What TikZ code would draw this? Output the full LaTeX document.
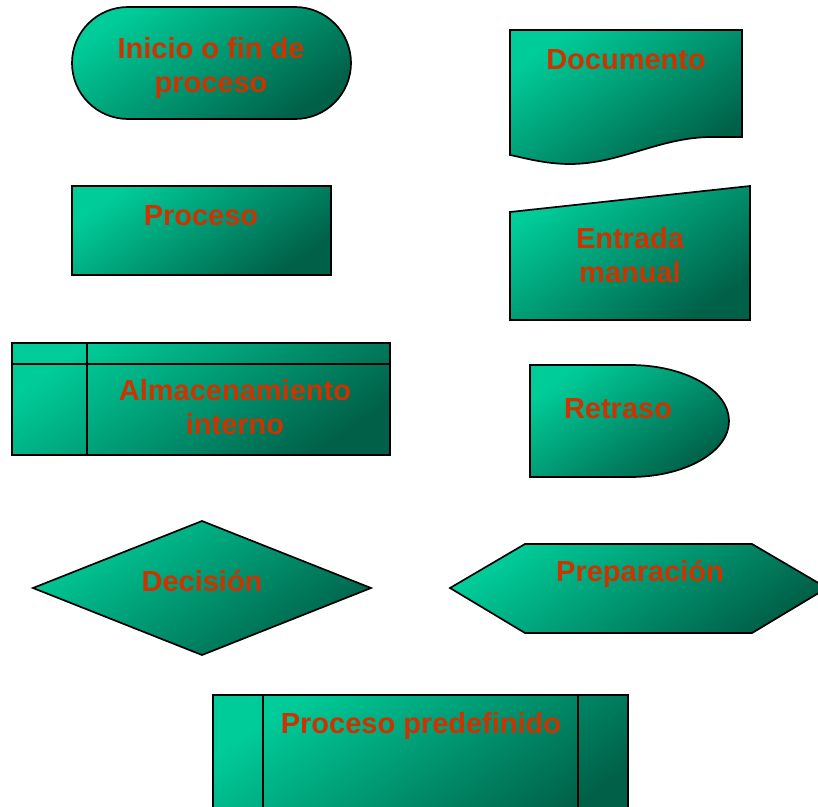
\documentclass[tikz,border=0pt]{standalone}
\usepackage{fontspec}
\setmainfont{Liberation Sans}
\definecolor{shapelight}{RGB}{0,204,153}
\definecolor{shapedark}{RGB}{0,96,72}
\definecolor{labelred}{RGB}{204,51,0}
\begin{document}
\begin{tikzpicture}[x=1pt, y=-1pt,
shapefill/.style={draw=black, line width=1.7pt, top color=shapelight, bottom color=shapedark, shading angle=35},
shapeline/.style={draw=black, line width=1.7pt},
labeltext/.style={font=\fontsize{29}{34}\selectfont\bfseries, text=labelred, align=center, inner sep=0pt},
]
\useasboundingbox (0,0) rectangle (818,806);
\clip (0,0) rectangle (818,806);
%Shapes
\path[shapefill, rounded corners=56pt] (72,7) rectangle (351,119);
\path[shapefill] (510,30) -- (742,30) -- (742,137) -- (712,137) .. controls (660,137) and (620,164) .. (570,164) .. controls (545,164) and (525,158) .. (510,155) -- cycle;
\path[shapefill] (72,186) rectangle (331,275);
\path[shapefill] (510,212) -- (750,186) -- (750,320) -- (510,320) -- cycle;
\path[shapefill] (12,343) rectangle (390,455);
\draw[shapeline] (12,364) -- (390,364);
\draw[shapeline] (87,343) -- (87,455);
\path[shapefill] (530,365) -- (630,365) .. controls (685,365) and (729,390) .. (729,421) .. controls (729,452) and (685,477) .. (630,477) -- (530,477) -- cycle;
\path[shapefill] (33,588) -- (202,521) -- (371,588) -- (202,655) -- cycle;
\path[shapefill] (450,588) -- (525,544) -- (752,544) -- (827,588) -- (752,633) -- (525,633) -- cycle;
\path[shapefill] (213,695) rectangle (628,830);
\draw[shapeline] (263,695) -- (263,830);
\draw[shapeline] (578,695) -- (578,830);
%Nodes
\node[labeltext] (terminal)   at (211,68)  {Inicio o fin de\\proceso};
\node[labeltext] (documento)  at (626,60)  {Documento};
\node[labeltext] (proceso)    at (201,216) {Proceso};
\node[labeltext] (entrada)    at (630,255) {Entrada\\manual};
\node[labeltext] (almacen)    at (235,407) {Almacenamiento\\interno};
\node[labeltext] (retraso)    at (618,409) {Retraso};
\node[labeltext] (decision)   at (202,581) {Decisión};
\node[labeltext] (preparacion) at (640,574) {Preparación};
\node[labeltext] (predefinido) at (421,726) {Proceso predefinido};
\end{tikzpicture}
\end{document}
